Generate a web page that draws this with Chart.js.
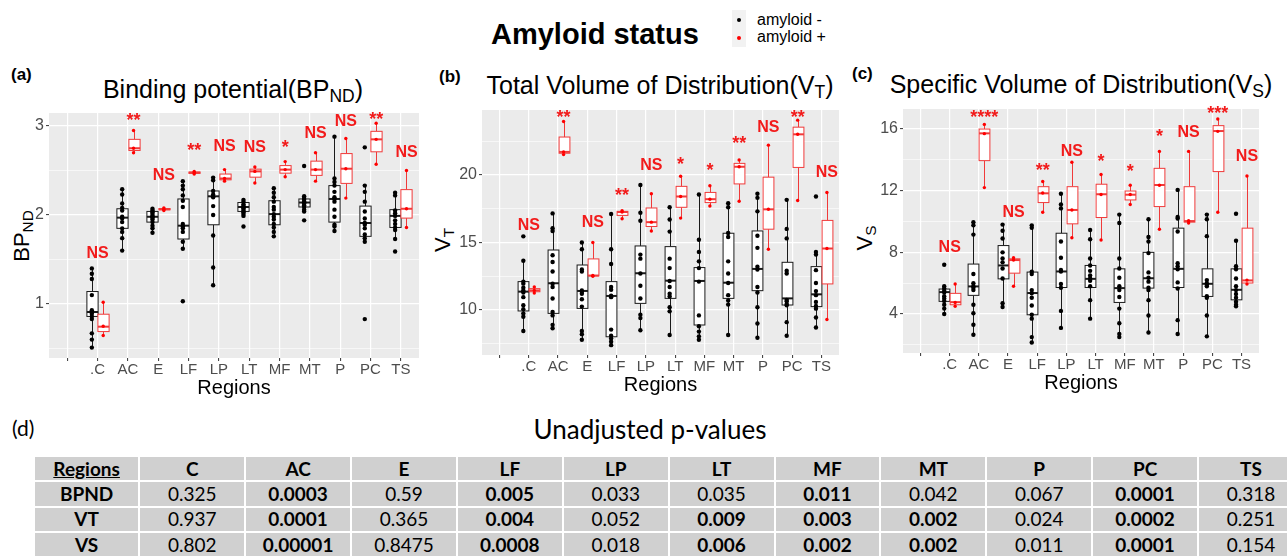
<!DOCTYPE html>
<html>
<head>
<meta charset="utf-8">
<script src="https://cdn.jsdelivr.net/npm/chart.js@4.4.1/dist/chart.umd.min.js"></script>
<style>
  body { margin: 0; width: 1287px; height: 556px; overflow: hidden; background: #fff; position: relative;
         font-family: "Liberation Sans", Arial, sans-serif; color: #000; }
  canvas { position: absolute; }
  .abs { position: absolute; white-space: nowrap; }
  .ptitle { position: absolute; width: 600px; text-align: center; font-size: 25px; line-height: 25px; white-space: nowrap; }
  sub { font-size: 0.7em; vertical-align: -0.25em; line-height: 0; }
  .ytitle { position: absolute; transform: translate(-50%, -50%) rotate(-90deg); font-size: 22px; line-height: 1; white-space: nowrap; }
  .plabel { position: absolute; font-weight: bold; font-size: 17px; line-height: 17px; }
  table { position: absolute; left: 33px; top: 455px; width: 1272px; border-collapse: separate; border-spacing: 2px;
          table-layout: fixed; font-family: Lato, "Open Sans", sans-serif; font-size: 19px; }
  td { background: #d0d0d0; height: 23.3px; padding: 0; text-align: center; line-height: 22px; }
  td.b { font-weight: bold; }
</style>
</head>
<body>

<div class="abs" style="left:491px;top:20px;font-size:29px;line-height:29px;font-weight:bold;">Amyloid status</div>
<div class="abs" style="left:732px;top:10px;width:14px;height:37px;background:#f2f2f2;"></div>
<div class="abs" style="left:737px;top:18px;width:4px;height:4px;border-radius:2px;background:#000;"></div>
<div class="abs" style="left:737px;top:36px;width:4px;height:4px;border-radius:2px;background:#f00;"></div>
<div class="abs" style="left:757px;top:12px;font-size:16px;line-height:16px;">amyloid -</div>
<div class="abs" style="left:757px;top:29px;font-size:16px;line-height:16px;">amyloid +</div>

<div class="plabel" style="left:11px;top:66px;">(a)</div>
<div class="plabel" style="left:439px;top:68px;">(b)</div>
<div class="plabel" style="left:852px;top:65px;">(c)</div>

<div class="ptitle" style="left:-67px;top:77px;">Binding potential(BP<sub>ND</sub>)</div>
<div class="ptitle" style="left:360px;top:73px;">Total Volume of Distribution(V<sub>T</sub>)</div>
<div class="ptitle" style="left:781px;top:72px;">Specific Volume of Distribution(V<sub>S</sub>)</div>

<div class="ytitle" style="left:22px;top:236px;">BP<sub>ND</sub></div>
<div class="ytitle" style="left:443px;top:240px;">V<sub>T</sub></div>
<div class="ytitle" style="left:865px;top:238px;">V<sub>S</sub></div>

<canvas id="bpChart" width="430" height="300" style="left:0px;top:100px;"></canvas>
<canvas id="vtChart" width="430" height="300" style="left:430px;top:100px;"></canvas>
<canvas id="vsChart" width="427" height="300" style="left:860px;top:100px;"></canvas>

<div class="abs" style="left:12px;top:415px;font-family:Lato,sans-serif;font-size:21px;line-height:25px;">(d)</div>
<div class="abs" style="left:350px;width:600px;text-align:center;top:414px;font-family:Lato,sans-serif;font-size:26px;line-height:31px;">Unadjusted p-values</div>

<table id="pTable"></table>

<script>
// regions on the x axis, the first slot is empty in the original
const regions = ['', '.C', 'AC', 'E', 'LF', 'LP', 'LT', 'MF', 'MT', 'P', 'PC', 'TS'];

// ---- (a) BP_ND ----
const bpNegPts = [
  [1.40, 1.34, 1.28, 1.10, 0.93, 0.91, 0.89, 0.86, 0.83, 0.67, 0.60, 0.51],
  [2.29, 2.23, 2.13, 2.08, 2.05, 1.98, 1.96, 1.92, 1.85, 1.81, 1.74, 1.60],
  [2.07, 2.05, 2.03, 2.01, 1.99, 1.98, 1.97, 1.95, 1.92, 1.88, 1.85, 1.80],
  [2.38, 2.33, 2.29, 2.22, 2.16, 2.09, 1.90, 1.87, 1.85, 1.81, 1.70, 1.62, 1.03],
  [2.42, 2.39, 2.27, 2.23, 2.21, 2.20, 2.10, 2.00, 1.77, 1.41, 1.21],
  [2.17, 2.15, 2.12, 2.10, 2.09, 2.08, 2.07, 2.05, 2.03, 2.01, 1.99, 1.87],
  [2.30, 2.25, 2.20, 2.15, 2.09, 2.06, 2.01, 1.98, 1.95, 1.90, 1.86, 1.81, 1.76],
  [2.55, 2.21, 2.19, 2.17, 2.15, 2.14, 2.13, 2.11, 2.09, 2.06, 2.04, 1.94],
  [2.88, 2.41, 2.37, 2.33, 2.26, 2.20, 2.18, 2.15, 2.06, 1.98, 1.89, 1.87, 1.82],
  [2.76, 2.33, 2.26, 2.15, 2.04, 1.96, 1.91, 1.89, 1.85, 1.78, 1.74, 1.70, 0.83],
  [2.25, 2.22, 2.05, 2.02, 1.99, 1.94, 1.90, 1.86, 1.83, 1.73, 1.59]
];
const bpPosPts = [
  [1.02, 0.75, 0.645], [2.95, 2.75, 2.70], [2.08, 2.065, 2.05], [2.49, 2.475, 2.46],
  [2.51, 2.41, 2.38], [2.54, 2.49, 2.36], [2.60, 2.51, 2.43], [2.70, 2.51, 2.38],
  [2.86, 2.52, 2.19], [3.03, 2.85, 2.57], [2.50, 2.07, 1.86]
];
// [lower whisker, q1, median, q3, upper whisker]
const bpNegBox = [
  [0.51, 0.86, 0.91, 1.14, 1.40], [1.60, 1.85, 1.97, 2.07, 2.30], [1.80, 1.92, 1.98, 2.04, 2.075],
  [1.62, 1.73, 1.88, 2.18, 2.39], [1.21, 1.89, 2.21, 2.27, 2.42], [1.99, 2.04, 2.09, 2.14, 2.18],
  [1.76, 1.89, 2.01, 2.16, 2.30], [2.04, 2.09, 2.14, 2.18, 2.21], [1.82, 1.92, 2.18, 2.33, 2.89],
  [1.70, 1.76, 1.91, 2.10, 2.33], [1.73, 1.86, 1.99, 2.06, 2.26]
];
const bpPosBox = [
  [0.645, 0.69, 0.745, 0.885, 1.02], [2.70, 2.725, 2.75, 2.85, 2.95], [2.05, 2.058, 2.065, 2.072, 2.08],
  [2.46, 2.468, 2.475, 2.483, 2.49], [2.38, 2.395, 2.41, 2.46, 2.51], [2.36, 2.425, 2.49, 2.515, 2.54],
  [2.43, 2.47, 2.51, 2.555, 2.60], [2.38, 2.445, 2.51, 2.605, 2.70], [2.19, 2.355, 2.52, 2.69, 2.86],
  [2.57, 2.71, 2.85, 2.94, 3.03], [1.86, 1.965, 2.07, 2.285, 2.50]
];
const bpSig = ['NS', '**', 'NS', '**', 'NS', 'NS', '*', 'NS', 'NS', '**', 'NS'];
const bpSigY = [1.576, 3.11, 2.457, 2.775, 2.786, 2.775, 2.813, 2.925, 3.067, 3.124, 2.712];
const bpMajor = [1, 2, 3];
const bpMinor = [0.5, 1.5, 2.5];

// ---- (b) V_T ----
const vtNegPts = [
  [15.45, 13.65, 12.1, 11.95, 11.65, 11.45, 11.3, 10.95, 10.35, 10.05, 9.75, 9.5, 8.45],
  [17.15, 16.05, 15.85, 14.05, 13.55, 12.85, 11.95, 11.7, 10.85, 9.85, 9.6, 8.9, 8.65],
  [15.0, 14.5, 13.0, 12.85, 11.45, 11.35, 11.2, 10.8, 10.25, 8.45, 8.2, 7.8],
  [17.1, 14.5, 13.4, 11.7, 11.5, 11.05, 10.95, 8.55, 8.1, 7.9, 7.65, 7.4],
  [19.25, 17.2, 16.6, 14.1, 13.8, 12.7, 11.8, 10.85, 9.65, 9.4, 8.5],
  [17.6, 16.7, 15.8, 13.8, 13.1, 12.15, 11.7, 11.2, 11.0, 10.2, 9.9, 8.15],
  [18.55, 15.2, 14.3, 13.6, 13.1, 12.1, 9.6, 8.8, 8.4, 8.05, 7.8],
  [17.9, 17.6, 15.7, 15.4, 13.6, 12.7, 12.0, 11.1, 10.7, 10.4, 8.15],
  [18.6, 18.3, 17.3, 15.5, 14.6, 13.2, 13.0, 11.7, 11.3, 10.2, 9.0, 7.95],
  [18.15, 16.0, 15.3, 12.9, 12.7, 10.75, 10.65, 10.45, 10.35, 9.1, 8.1],
  [18.4, 14.3, 14.1, 12.95, 12.0, 11.4, 11.1, 10.6, 10.3, 10.1, 9.45, 8.7]
];
const vtPosPts = [
  [11.7, 11.45, 11.25], [23.95, 21.7, 21.5], [15.0, 12.55, 12.5], [17.35, 17.25, 16.75],
  [18.6, 16.5, 15.85], [19.9, 18.4, 16.8], [19.2, 18.2, 17.7], [21.1, 20.6, 18.05],
  [22.2, 17.45, 14.5], [24.05, 23.0, 18.1], [18.7, 14.55, 9.3]
];
const vtNegBox = [
  [8.47, 9.93, 11.36, 12.1, 13.65], [8.64, 9.75, 11.98, 14.44, 17.16], [7.78, 10.12, 11.41, 13.33, 15.01],
  [7.41, 8.02, 11.04, 12.1, 17.16], [8.52, 10.49, 12.72, 14.74, 19.26], [8.15, 10.86, 12.17, 14.69, 17.58],
  [7.78, 8.89, 12.15, 13.14, 18.57], [8.15, 10.86, 12.02, 15.68, 17.9], [7.98, 11.43, 13.04, 15.85, 18.64],
  [8.15, 10.37, 10.86, 13.53, 18.15], [8.69, 10.25, 11.16, 13.21, 14.32]
];
const vtPosBox = [
  [11.25, 11.35, 11.45, 11.58, 11.7], [21.5, 21.6, 21.7, 22.8, 23.95], [12.5, 12.525, 12.55, 13.78, 15.0],
  [16.75, 17.0, 17.25, 17.3, 17.35], [15.85, 16.18, 16.5, 17.55, 18.6], [16.8, 17.6, 18.4, 19.15, 19.9],
  [17.7, 17.95, 18.2, 18.7, 19.2], [18.05, 19.33, 20.6, 20.85, 21.1], [14.5, 15.98, 17.45, 19.83, 22.2],
  [18.1, 20.55, 23.0, 23.53, 24.05], [9.3, 11.93, 14.55, 16.63, 18.7]
];
const vtSig = ['NS', '**', 'NS', '**', 'NS', '*', '*', '**', 'NS', '**', 'NS'];
const vtSigY = [16.35, 24.6, 16.54, 18.81, 20.79, 21.06, 20.62, 22.67, 23.58, 24.57, 20.30];
const vtMajor = [10, 15, 20];
const vtMinor = [7.5, 12.5, 17.5, 22.5];

// ---- (c) V_S ----
const vsNegPts = [
  [7.2, 5.8, 5.65, 5.5, 5.4, 5.15, 5.0, 4.85, 4.6, 4.35, 4.0],
  [9.95, 9.75, 9.15, 6.6, 6.0, 5.8, 5.7, 5.55, 4.6, 4.05, 3.3, 2.65],
  [9.8, 9.4, 8.9, 8.0, 7.6, 7.35, 6.95, 6.3, 4.7, 4.45],
  [9.75, 9.6, 6.75, 6.6, 5.55, 5.35, 5.05, 4.55, 3.95, 3.7, 2.5, 2.15],
  [11.8, 11.1, 10.85, 8.7, 7.65, 6.85, 6.75, 5.95, 5.7, 4.2, 3.1],
  [9.45, 8.85, 7.6, 7.15, 6.8, 6.5, 6.3, 6.15, 5.8, 4.9, 3.7],
  [10.45, 9.9, 7.6, 6.95, 6.35, 5.8, 5.55, 5.1, 4.35, 3.4, 2.7, 2.5],
  [10.15, 9.0, 8.7, 7.95, 6.7, 6.35, 6.1, 5.7, 5.55, 4.9, 3.9, 2.8],
  [12.05, 10.3, 10.2, 9.35, 7.3, 7.1, 6.9, 6.05, 5.65, 3.6, 2.7],
  [10.45, 10.15, 9.05, 6.2, 6.0, 5.9, 5.8, 5.15, 5.05, 3.9, 2.55],
  [10.5, 8.75, 7.1, 6.9, 6.3, 5.8, 5.55, 5.3, 5.05, 4.8, 4.6, 4.5]
];
const vsPosPts = [
  [5.95, 4.75, 4.5], [16.3, 15.7, 12.2], [7.65, 7.5, 5.8], [12.6, 11.85, 10.6],
  [13.85, 10.75, 8.95], [13.05, 11.75, 8.8], [12.35, 11.75, 11.1], [14.55, 12.35, 9.5],
  [14.55, 10.05, 9.9], [16.65, 15.85, 10.6], [12.95, 6.2, 5.95]
];
const vsNegBox = [
  [4.0, 4.82, 5.42, 5.62, 5.79], [2.66, 5.21, 5.79, 7.24, 9.96], [4.49, 6.28, 7.15, 8.44, 9.78],
  [2.18, 3.95, 5.36, 6.72, 9.74], [3.09, 5.72, 6.76, 9.24, 11.77], [3.69, 5.72, 6.28, 7.15, 9.46],
  [2.51, 4.75, 5.68, 6.93, 10.47], [2.81, 5.68, 6.32, 8.0, 10.15], [2.7, 5.72, 6.93, 9.57, 12.05],
  [2.55, 5.14, 5.96, 6.93, 10.47], [4.49, 4.92, 5.57, 6.93, 8.75]
];
const vsPosBox = [
  [4.49, 4.6, 4.77, 5.34, 5.96], [12.2, 13.95, 15.72, 16.0, 16.32], [5.79, 6.65, 7.5, 7.58, 7.66],
  [10.6, 11.23, 11.83, 12.26, 12.63], [8.96, 9.85, 10.75, 12.26, 13.84], [8.81, 10.26, 11.77, 12.42, 13.06],
  [11.08, 11.4, 11.74, 11.98, 12.37], [9.52, 10.97, 12.37, 13.45, 14.53], [9.9, 9.96, 10.03, 12.26, 14.58],
  [10.6, 13.24, 15.87, 16.22, 16.65], [5.95, 6.01, 6.18, 9.57, 12.98]
];
const vsSig = ['NS', '****', 'NS', '**', 'NS', '*', '*', '*', 'NS', '***', 'NS'];
const vsSigY = [8.38, 17.06, 10.65, 13.6, 14.6, 14.2, 13.56, 15.83, 15.83, 17.27, 14.32];
const vsMajor = [4, 8, 12, 16];
const vsMinor = [2, 6, 10, 14];

// ---- (d) table ----
const tableCols = ['C', 'AC', 'E', 'LF', 'LP', 'LT', 'MF', 'MT', 'P', 'PC', 'TS'];
const tableRows = ['BPND', 'VT', 'VS'];
const pBP = ['0.325', '0.0003', '0.59', '0.005', '0.033', '0.035', '0.011', '0.042', '0.067', '0.0001', '0.318'];
const pVT = ['0.937', '0.0001', '0.365', '0.004', '0.052', '0.009', '0.003', '0.002', '0.024', '0.0002', '0.251'];
const pVS = ['0.802', '0.00001', '0.8475', '0.0008', '0.018', '0.006', '0.002', '0.002', '0.011', '0.0001', '0.154'];
const boldBP = [1, 3, 6, 9];
const boldVT = [1, 3, 5, 6, 7, 9];
const boldVS = [1, 3, 5, 6, 7, 9];

Chart.defaults.font.family = '"Liberation Sans", Arial, sans-serif';

const DODGE = 0.1875;
const BOX_W = 0.37;

const panelBg = {
  id: 'panelBg',
  beforeDraw(chart) {
    const { ctx, chartArea: a } = chart;
    ctx.save();
    ctx.fillStyle = '#ebebeb';
    ctx.fillRect(a.left, a.top, a.width, a.height);
    ctx.restore();
  }
};

function boxPlugin(negBox, posBox, sig, sigY) {
  return {
    id: 'boxes',
    beforeDatasetsDraw(chart) {
      const { ctx, scales: { x, y } } = chart;
      const half = (x.getPixelForValue(BOX_W / 2) - x.getPixelForValue(0));
      [[negBox, -DODGE, '#1a1a1a'], [posBox, DODGE, '#f03a3a']].forEach(([boxes, off, col]) => {
        boxes.forEach((b, i) => {
          const cx = Math.round(x.getPixelForValue(i + 1 + off)) + 0.5;
          const [lo, q1, med, q3, hi] = b.map(v => y.getPixelForValue(v));
          ctx.save();
          ctx.strokeStyle = col;
          ctx.lineWidth = 1;
          ctx.beginPath();
          ctx.moveTo(cx, hi); ctx.lineTo(cx, q3);
          ctx.moveTo(cx, q1); ctx.lineTo(cx, lo);
          ctx.stroke();
          ctx.fillStyle = '#fff';
          ctx.fillRect(cx - half, q3, 2 * half, q1 - q3);
          ctx.strokeRect(cx - half, q3, 2 * half, q1 - q3);
          ctx.lineWidth = 2;
          ctx.beginPath();
          ctx.moveTo(cx - half, med); ctx.lineTo(cx + half, med);
          ctx.stroke();
          ctx.restore();
        });
      });
    },
    afterDatasetsDraw(chart) {
      const { ctx, scales: { x, y } } = chart;
      ctx.save();
      ctx.fillStyle = '#f21b1b';
      ctx.textAlign = 'center';
      ctx.textBaseline = 'alphabetic';
      sig.forEach((t, i) => {
        const stars = /^\*+$/.test(t);
        const fs = stars ? 18 : 16;
        ctx.font = 'bold ' + fs + 'px "Liberation Sans", Arial, sans-serif';
        const px = x.getPixelForValue(i + 1 + (i === 0 ? 0 : DODGE));
        const py = y.getPixelForValue(sigY[i]) + fs * (stars ? 0.55 : 0.36);
        ctx.fillText(t, px, py);
      });
      ctx.restore();
    }
  };
}

const toPoints = (pts, off) => pts.flatMap((vals, i) => vals.map(v => ({ x: i + 1 + off, y: v })));

function makePanel(id, frame, area, regionsY, yRange, major, minor, negPts, posPts, negBox, posBox, sig, sigY) {
  const padBottom = frame.top + frame.h - regionsY - 12;
  const xH = frame.top + frame.h - padBottom - area.b;
  const isMajor = v => major.includes(v);
  return new Chart(document.getElementById(id), {
    type: 'scatter',
    data: {
      datasets: [
        { label: 'amyloid -', data: toPoints(negPts, -DODGE), backgroundColor: '#000', pointRadius: 2.2, pointBorderWidth: 0 },
        { label: 'amyloid +', data: toPoints(posPts, DODGE), backgroundColor: '#ff0000', pointRadius: 1.7, pointBorderWidth: 0 }
      ]
    },
    options: {
      responsive: false,
      animation: false,
      layout: { padding: { left: 0, top: area.t - frame.top, right: frame.left + frame.w - area.r, bottom: padBottom } },
      plugins: { legend: { display: false }, tooltip: { enabled: false } },
      scales: {
        x: {
          type: 'linear', min: -0.6, max: 11.6,
          afterBuildTicks: s => { s.ticks = regions.map((r, i) => ({ value: i })); },
          afterFit: s => { s.height = xH; s.paddingLeft = 0; s.paddingRight = 0; },
          ticks: { callback: (v, i) => regions[i], autoSkip: false, maxRotation: 0, padding: 0, color: '#4d4d4d', font: { size: 15 } },
          grid: { color: '#fff', lineWidth: 1.2, tickColor: '#333', tickLength: 3, tickWidth: 1 },
          border: { display: false },
          title: { display: true, text: 'Regions', color: '#000', font: { size: 20 }, padding: 0 }
        },
        y: {
          min: yRange[0], max: yRange[1],
          afterBuildTicks: s => { s.ticks = minor.concat(major).sort((a, b) => a - b).map(v => ({ value: v })); },
          afterFit: s => { s.width = area.l - frame.left; s.paddingTop = 0; s.paddingBottom = 0; },
          ticks: { callback: v => isMajor(v) ? String(v) : '', autoSkip: false, padding: 2, color: '#4d4d4d', font: { size: 16 } },
          grid: {
            color: '#fff',
            lineWidth: c => (c.tick && isMajor(c.tick.value)) ? 1.2 : 0.6,
            tickColor: c => (c.tick && isMajor(c.tick.value)) ? '#333' : 'rgba(0,0,0,0)',
            tickLength: 3, tickWidth: 1
          },
          border: { display: false }
        }
      }
    },
    plugins: [panelBg, boxPlugin(negBox, posBox, sig, sigY)]
  });
}

makePanel('bpChart', { left: 0, top: 100, w: 430, h: 300 }, { l: 49, t: 113, r: 419, b: 358 }, 388,
  [0.393, 3.146], bpMajor, bpMinor, bpNegPts, bpPosPts, bpNegBox, bpPosBox, bpSig, bpSigY);
makePanel('vtChart', { left: 430, top: 100, w: 430, h: 300 }, { l: 482, t: 110, r: 839, b: 355 }, 385,
  [6.67, 24.8], vtMajor, vtMinor, vtNegPts, vtPosPts, vtNegBox, vtPosBox, vtSig, vtSigY);
makePanel('vsChart', { left: 860, top: 100, w: 427, h: 300 }, { l: 903, t: 109, r: 1259, b: 353 }, 383,
  [1.47, 17.3], vsMajor, vsMinor, vsNegPts, vsPosPts, vsNegBox, vsPosBox, vsSig, vsSigY);

// table (d)
const table = document.getElementById('pTable');
let html = '<colgroup><col style="width:103px">' + tableCols.map(() => '<col style="width:103.6px">').join('') + '</colgroup>';
html += '<tr><td class="b"><u>Regions</u></td>' + tableCols.map(c => '<td class="b">' + c + '</td>').join('') + '</tr>';
[[pBP, boldBP], [pVT, boldVT], [pVS, boldVS]].forEach(([vals, bold], r) => {
  html += '<tr><td class="b">' + tableRows[r] + '</td>' +
    vals.map((v, i) => '<td' + (bold.includes(i) ? ' class="b"' : '') + '>' + v + '</td>').join('') + '</tr>';
});
table.innerHTML = html;
</script>
</body>
</html>
